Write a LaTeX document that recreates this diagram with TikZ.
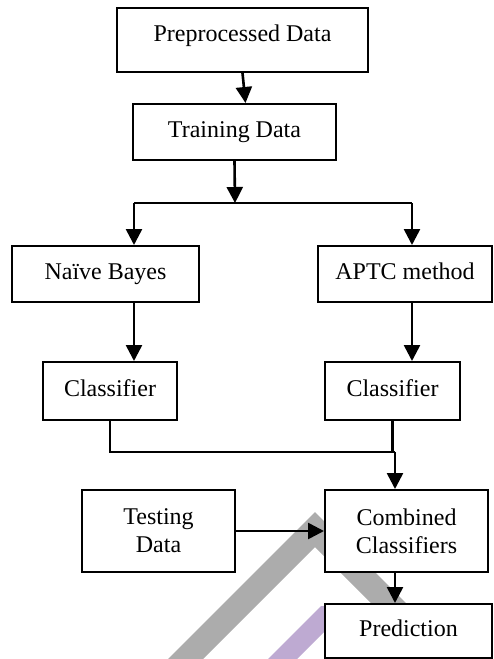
\documentclass[tikz,border=0pt]{standalone}
\usepackage{fontspec}
\setmainfont{Liberation Serif}
\usetikzlibrary{arrows.meta}
\definecolor{wmgray}{RGB}{172,172,172}
\definecolor{wmpurple}{RGB}{190,170,210}
\begin{document}
\begin{tikzpicture}[x=1pt,y=-1pt,
  box/.style={draw, line width=2pt, fill=white, inner sep=0pt,
    font=\fontsize{24}{28}\selectfont, align=center},
  single/.style={text height=16.4pt, text depth=5.2pt},
  arr/.style={line width=2.6pt, -{Triangle[width=16pt,length=16pt]}},
  link/.style={line width=2.2pt}]
\useasboundingbox (0,0) rectangle (494,659);

% faint background marks
\fill[wmgray] (168,659) -- (315,512) -- (462,659) -- (427,659) -- (315,547) -- (203,659) -- cycle;
\fill[wmpurple] (268,659) -- (321,606) -- (350,606) -- (297,659) -- cycle;

% boxes
\node[box, single, minimum width=251pt, minimum height=64pt, text depth=14.4pt] (pre) at (242.5,40) {Preprocessed Data};
\node[box, single, minimum width=203pt, minimum height=56pt] (train) at (234.5,132) {Training Data};
\node[box, single, minimum width=187pt, minimum height=56pt] (nb) at (105.5,274) {Naïve Bayes};
\node[box, single, minimum width=174pt, minimum height=56pt] (aptc) at (405,274) {APTC method};
\node[box, single, minimum width=134pt, minimum height=58pt] (cl1) at (110,391) {Classifier};
\node[box, single, minimum width=135pt, minimum height=58pt] (cl2) at (392.5,391) {Classifier};
\node[box, minimum width=153pt, minimum height=82pt] (test) at (158.5,531) {Testing\\Data};
\node[box, minimum width=163pt, minimum height=82pt] (comb) at (406.5,531) {Combined\\Classifiers};
\node[box, single, minimum width=167pt, minimum height=54pt] (pred) at (408.5,631) {Prediction};

% junction points
\coordinate (split) at (235,203);
\coordinate (bl) at (134,203);
\coordinate (br) at (412,203);
\coordinate (merge) at (395,452);

% connectors
\draw[arr] (pre.south) -- ([xshift=11pt]train.north);
\draw[arr] (train.south) -- (split);
\draw[link] (bl) -- (br);
\draw[arr] (bl) -- (bl |- nb.north);
\draw[arr] (br) -- (br |- aptc.north);
\draw[arr] (bl |- nb.south) -- (bl |- cl1.north);
\draw[arr] (br |- aptc.south) -- (br |- cl2.north);
\draw[link] (cl1.south) |- (merge);
\draw[link] (cl2.south) -- (cl2.south |- merge);
\draw[arr] (merge) -- (merge |- comb.north);
\draw[arr] (test.east) -- (comb.west);
\draw[arr] (merge |- comb.south) -- (merge |- pred.north);
\end{tikzpicture}
\end{document}
